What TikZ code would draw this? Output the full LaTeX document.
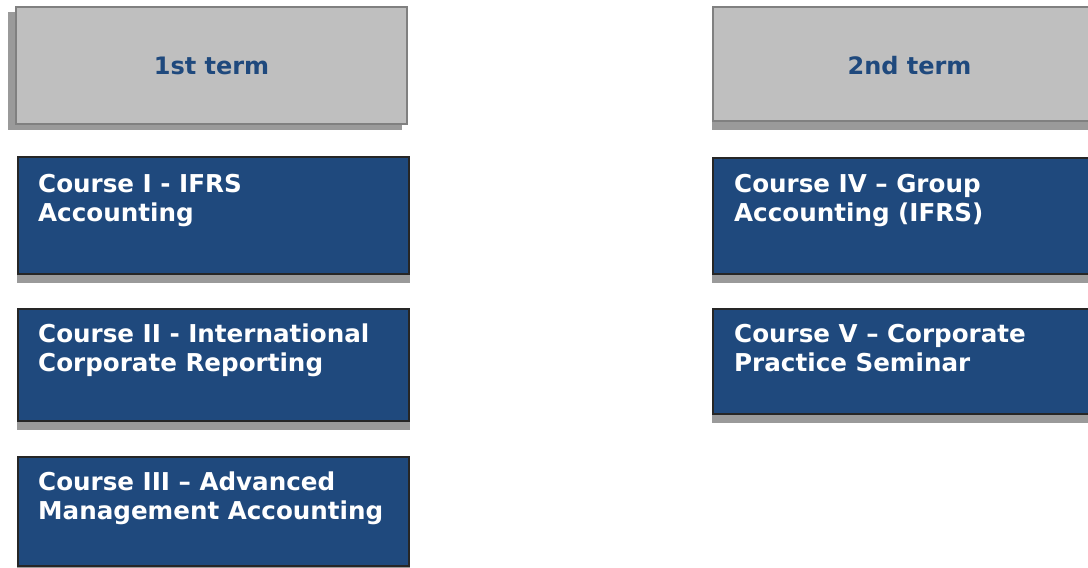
\documentclass[tikz,border=0pt]{standalone}
\usepackage{fontspec}
\setmainfont{DejaVu Sans}
\definecolor{boxblue}{HTML}{1F497D}
\definecolor{headgray}{HTML}{BFBFBF}
\definecolor{headborder}{HTML}{808080}
\definecolor{shadowgray}{HTML}{9A9A9A}
\begin{document}
\begin{tikzpicture}[x=1pt,y=-1pt,
  shadowrect/.style={fill=shadowgray, draw=none},
  headbox/.style={draw=headborder, line width=2pt, fill=headgray},
  coursebox/.style={draw=black!85, line width=1.3pt, fill=boxblue},
  headtext/.style={text=boxblue, font=\bfseries\fontsize{24}{28.5}\selectfont, inner sep=0pt},
  coursetext/.style={anchor=base west, align=left, text=white, font=\bfseries\fontsize{24.6}{28.8}\selectfont, inner sep=0pt}]
\useasboundingbox (0,0) rectangle (1088,568);
% header 1
\fill[shadowrect] (8,12) rectangle (402,130);
\draw[headbox] (16,7) rectangle (407,124);
\node[headtext] (h1) at (211.5,66) {1st term};
% header 2
\fill[shadowrect] (712,14) rectangle (1106,130);
\draw[headbox] (713,7) rectangle (1106,121);
\node[headtext] (h2) at (909.5,66) {2nd term};
% course I
\fill[shadowrect] (17,166) rectangle (410,283);
\draw[coursebox] (18,157) rectangle (409,274);
\node[coursetext] (c1) at (38,221) {Course I - IFRS\\Accounting};
% course II
\fill[shadowrect] (17,318) rectangle (410,430);
\draw[coursebox] (18,309) rectangle (409,421);
\node[coursetext] (c2) at (38,371.5) {Course II - International\\Corporate Reporting};
% course III
\fill[shadowrect] (17,466) rectangle (410,576);
\draw[coursebox] (18,457) rectangle (409,566);
\node[coursetext] (c3) at (38,519.5) {Course III – Advanced\\Management Accounting};
% course IV
\fill[shadowrect] (712,166) rectangle (1106,283);
\draw[coursebox] (713,158) rectangle (1106,274);
\node[coursetext] (c4) at (734,221) {Course IV – Group\\Accounting (IFRS)};
% course V
\fill[shadowrect] (712,318) rectangle (1106,423);
\draw[coursebox] (713,309) rectangle (1106,414);
\node[coursetext] (c5) at (734,371.5) {Course V – Corporate\\Practice Seminar};
\end{tikzpicture}
\end{document}
